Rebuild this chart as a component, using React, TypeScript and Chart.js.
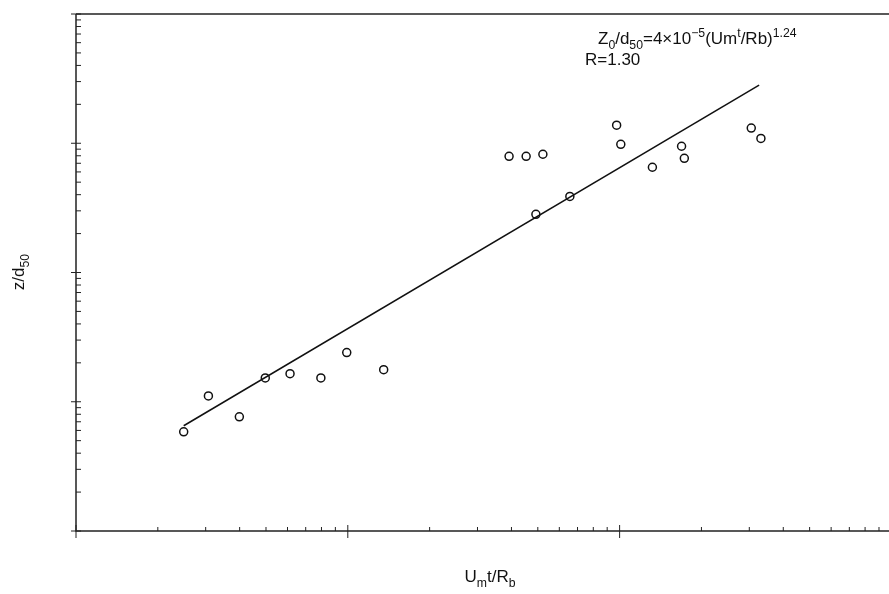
import { useEffect, useRef } from "react";
import { Chart, registerables } from "chart.js";

Chart.register(...registerables);

// measured points (Umt/Rb, z/d50)
const umtRb = [2.49, 3.07, 3.99, 4.97, 6.13, 7.96, 9.91, 13.55, 39.2, 45.3, 52.2, 49.2, 65.6, 97.5, 101, 132, 169, 173, 305, 331];
const zD50 = [0.585, 1.11, 0.765, 1.53, 1.65, 1.53, 2.4, 1.77, 79.3, 79.3, 82.2, 28.2, 38.8, 138, 98.2, 65.2, 94.8, 76.5, 131, 109];

// fitted line end points
const fitX = [2.49, 326];
const fitY = [0.652, 282];

const X_MIN = 1;
const X_MAX = 935;
const Y_MIN = 0.1;
const Y_MAX = 1000;

const FONT = "'Liberation Sans', Arial, sans-serif";

type Seg = [string, "n" | "sub" | "sup"];

function drawRich(ctx: CanvasRenderingContext2D, segs: Seg[], x: number, y: number, size: number) {
  let cx = x;
  for (const [t, mode] of segs) {
    const s = mode === "n" ? size : size * 0.72;
    const dy = mode === "sub" ? size * 0.3 : mode === "sup" ? -size * 0.4 : 0;
    ctx.font = `${s}px ${FONT}`;
    ctx.fillText(t, cx, y + dy);
    cx += ctx.measureText(t).width;
  }
  return cx - x;
}

function richWidth(ctx: CanvasRenderingContext2D, segs: Seg[], size: number) {
  let w = 0;
  for (const [t, mode] of segs) {
    ctx.font = `${mode === "n" ? size : size * 0.72}px ${FONT}`;
    w += ctx.measureText(t).width;
  }
  return w;
}

const axesPlugin = {
  id: "paperAxes",
  afterDraw(chart: Chart) {
    const ctx = chart.ctx;
    const xs = chart.scales.x;
    const ys = chart.scales.y;
    const { left, top, bottom } = chart.chartArea;
    ctx.save();
    ctx.strokeStyle = "#222";
    ctx.lineWidth = 1.5;
    ctx.beginPath();
    ctx.moveTo(left, top);
    ctx.lineTo(chart.width, top);
    ctx.moveTo(left, top);
    ctx.lineTo(left, bottom);
    ctx.lineTo(chart.width, bottom);
    ctx.stroke();

    ctx.lineWidth = 1;
    ctx.beginPath();
    for (let d = 0; d <= 3; d++) {
      for (let m = 1; m <= 9; m++) {
        const v = m * Math.pow(10, d);
        if (v < X_MIN || v > X_MAX) continue;
        const px = xs.getPixelForValue(v);
        if (m === 1) {
          ctx.moveTo(px, bottom + 7);
          ctx.lineTo(px, bottom - 6);
        } else {
          ctx.moveTo(px, bottom);
          ctx.lineTo(px, bottom - 4);
        }
      }
    }
    for (let d = -1; d <= 3; d++) {
      for (let m = 1; m <= 9; m++) {
        const v = m * Math.pow(10, d);
        if (v < Y_MIN * 0.999 || v > Y_MAX * 1.001) continue;
        const py = ys.getPixelForValue(v);
        if (m === 1) {
          ctx.moveTo(left - 5, py);
          ctx.lineTo(left + 5, py);
        } else {
          ctx.moveTo(left, py);
          ctx.lineTo(left + 5, py);
        }
      }
    }
    ctx.stroke();

    ctx.fillStyle = "#111";
    ctx.textBaseline = "alphabetic";
    ctx.textAlign = "left";
    const xl: Seg[] = [["U", "n"], ["m", "sub"], ["t/R", "n"], ["b", "sub"]];
    drawRich(ctx, xl, 490 - richWidth(ctx, xl, 17) / 2, 582, 17);

    const yl: Seg[] = [["z/d", "n"], ["50", "sub"]];
    ctx.save();
    ctx.translate(24, 272);
    ctx.rotate(-Math.PI / 2);
    drawRich(ctx, yl, -richWidth(ctx, yl, 17) / 2, 0, 17);
    ctx.restore();

    drawRich(ctx, [["Z", "n"], ["0", "sub"], ["/d", "n"], ["50", "sub"], ["=4\u00d710", "n"], ["\u22125", "sup"], ["(Um", "n"], ["t", "sup"], ["/Rb)", "n"], ["1.24", "sup"]], 598, 44, 17);
    drawRich(ctx, [["R=1.30", "n"]], 585, 65, 17);
    ctx.restore();
  },
};

export default function App() {
  const canvasRef = useRef<HTMLCanvasElement | null>(null);

  useEffect(() => {
    if (!canvasRef.current) return;
    const chart = new Chart(canvasRef.current, {
      type: "scatter",
      data: {
        datasets: [
          {
            label: "fit",
            data: fitX.map((x, i) => ({ x, y: fitY[i] })),
            showLine: true,
            borderColor: "#111",
            borderWidth: 1.5,
            pointRadius: 0,
          },
          {
            label: "data",
            data: umtRb.map((x, i) => ({ x, y: zD50[i] })),
            borderColor: "#111",
            backgroundColor: "#fff",
            borderWidth: 1.5,
            pointRadius: 4,
          },
        ],
      },
      options: {
        animation: false,
        responsive: false,
        layout: { padding: { left: 76, top: 14, right: 0, bottom: 63 } },
        scales: {
          x: { type: "logarithmic", min: X_MIN, max: X_MAX, display: false },
          y: { type: "logarithmic", min: Y_MIN, max: Y_MAX, display: false },
        },
        plugins: { legend: { display: false }, tooltip: { enabled: false } },
      },
      plugins: [axesPlugin],
    });
    return () => chart.destroy();
  }, []);

  return (
    <div style={{ position: "absolute", left: 0, top: 0, background: "#fff" }}>
      <canvas ref={canvasRef} width={889} height={594} style={{ width: 889, height: 594 }} />
    </div>
  );
}
